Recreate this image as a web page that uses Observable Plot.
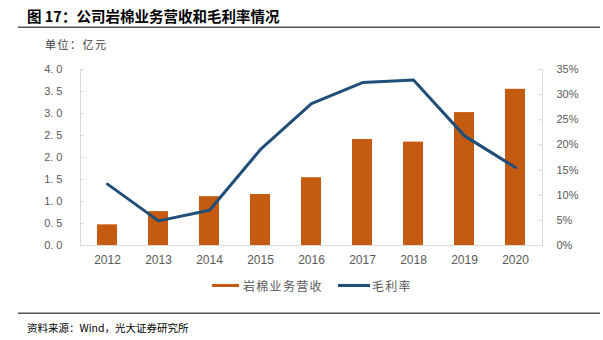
<!DOCTYPE html>
<html><head><meta charset="utf-8">
<script src="https://cdn.jsdelivr.net/npm/d3@7"></script>
<script src="https://cdn.jsdelivr.net/npm/@observablehq/plot@0.6"></script>
<style>
body{margin:0;background:#fff;font-family:"Noto Sans CJK SC","Noto Sans",sans-serif;}
#wrap{position:relative;width:603px;height:340px;overflow:hidden;background:#fff;}
#title{position:absolute;left:27px;top:8px;font-size:14.5px;line-height:16px;font-weight:bold;color:#000;white-space:nowrap;}
.hr{position:absolute;left:18px;width:582px;height:0;border-top:1px solid #a6a6a6;border-bottom:1px solid #595959;}
#unit{position:absolute;left:45px;top:37px;font-size:11px;line-height:14px;color:#404040;letter-spacing:1.5px;white-space:nowrap;}
#chart{position:absolute;left:0;top:50px;}
.lg{position:absolute;font-size:12px;line-height:14px;color:#595959;letter-spacing:1.3px;white-space:nowrap;}
.sw{position:absolute;height:3px;}
#source{position:absolute;left:27px;top:321px;font-size:10.5px;line-height:14px;color:#000;white-space:nowrap;}
</style></head><body>
<div id="wrap">
<div id="title">图 17：公司岩棉业务营收和毛利率情况</div>
<div class="hr" style="top:26px"></div>
<div id="unit">单位：亿元</div>
<div id="chart"></div>
<div class="sw" style="left:212px;top:284px;width:27px;background:#C55A11"></div>
<div class="lg" style="left:243px;top:279px">岩棉业务营收</div>
<div class="sw" style="left:338px;top:284px;width:32px;background:#1F4E79"></div>
<div class="lg" style="left:372px;top:279px">毛利率</div>
<div class="hr" style="top:312px"></div>
<div id="source">资料来源：Wind，光大证券研究所</div>
</div>
<script>
const years = ["2012","2013","2014","2015","2016","2017","2018","2019","2020"];
const revenue = [0.47, 0.77, 1.11, 1.16, 1.54, 2.41, 2.35, 3.02, 3.55];
const margin = [12.2, 4.9, 7.0, 19.1, 28.2, 32.4, 32.9, 21.8, 15.5];
const leftTicks = [0, 0.5, 1.0, 1.5, 2.0, 2.5, 3.0, 3.5, 4.0];
const rightTicks = [0, 5, 10, 15, 20, 25, 30, 35];

const LMAX = 4, RMAX = 35;
const toLeft = p => p * LMAX / RMAX;
const data = years.map((y, i) => ({year: y, rev: revenue[i], gm: margin[i]}));
const W = 603, H = 230, mL = 80, mR = 61, mT = 19, mB = 35;
const plotW = W - mL - mR;
const gray = "#595959";
const axisGray = "#d9d9d9";

const chart = Plot.plot({
  width: W, height: H,
  marginLeft: mL, marginRight: mR, marginTop: mT, marginBottom: mB,
  style: {fontFamily: "'Liberation Sans', Arial, sans-serif", fontSize: "11px", color: gray, background: "#fff"},
  x: {type: "band", domain: years, paddingInner: 0.61, paddingOuter: 0.305},
  y: {domain: [0, LMAX]},
  marks: [
    Plot.barY(data, {x: "year", y: "rev", fill: "#C55A11"}),
    Plot.ruleY([0], {stroke: axisGray, strokeWidth: 1}),
    Plot.tickY(leftTicks, {y: d => d, stroke: axisGray, insetRight: plotW - 4}),
    Plot.tickY(rightTicks.map(toLeft), {y: d => d, stroke: axisGray, insetLeft: plotW - 4}),
    Plot.frame({anchor: "left", stroke: axisGray}),
    Plot.frame({anchor: "right", stroke: axisGray}),
    Plot.line(data, {x: "year", y: d => toLeft(d.gm), stroke: "#1F4E79", strokeWidth: 3, strokeLinejoin: "round", strokeLinecap: "round"}),
    Plot.axisY(leftTicks, {anchor: "left", tickSize: 0, tickPadding: 18, label: null, fill: gray, fontSize: 11,
      tickFormat: d => d.toFixed(1).replace(".", ". ")}),
    Plot.axisY(rightTicks.map(toLeft), {anchor: "right", tickSize: 0, tickPadding: 14, label: null, fill: gray, fontSize: 11,
      tickFormat: d => Math.round(d * RMAX / LMAX) + "%"}),
    Plot.axisX({tickSize: 0, tickPadding: 10, label: null, fill: gray, fontSize: 12})
  ]
});
document.getElementById("chart").appendChild(chart);
</script>
</body></html>
